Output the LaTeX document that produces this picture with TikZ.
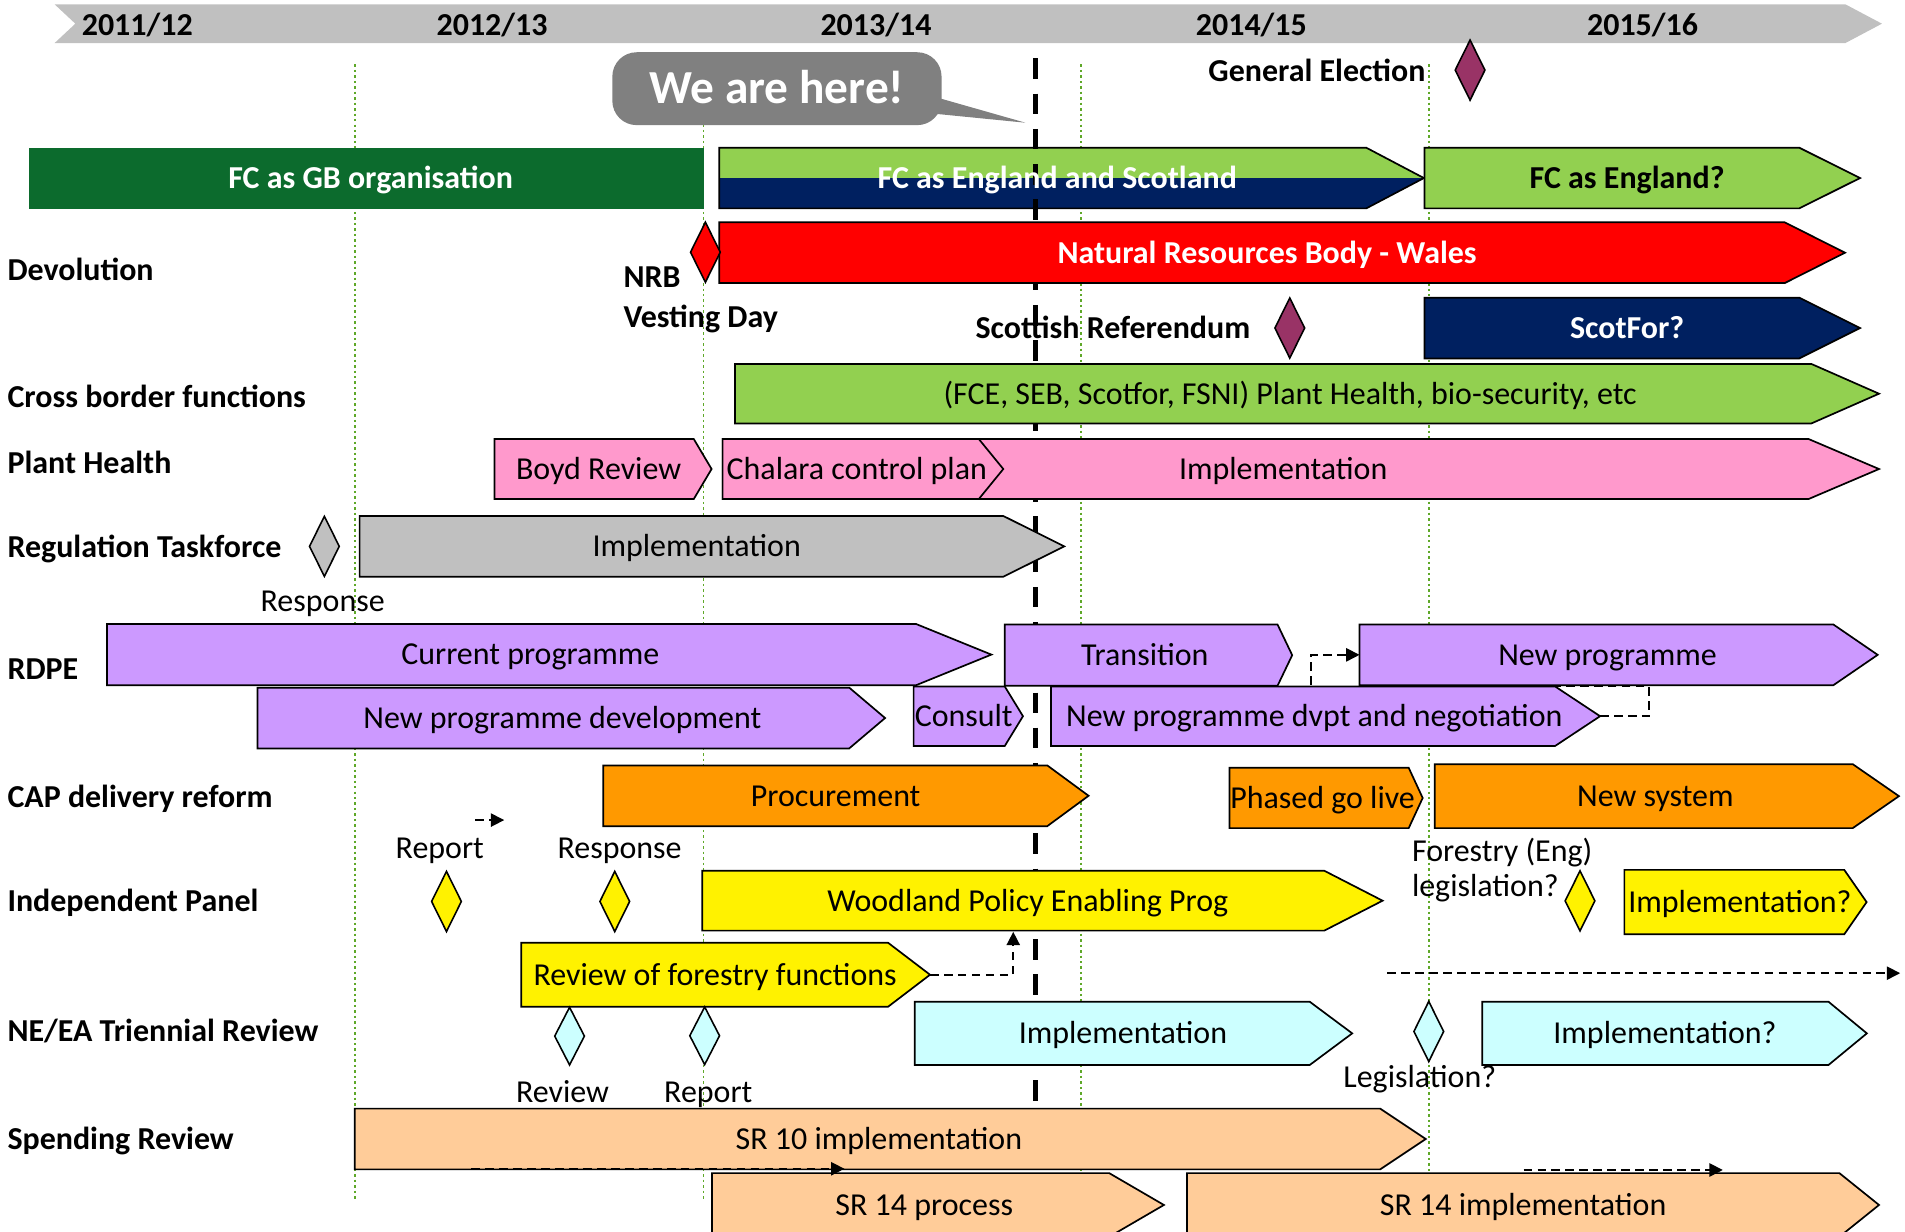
\documentclass[tikz,border=0pt]{standalone}
\usepackage{fontspec}
\setmainfont{Carlito}
\usetikzlibrary{arrows.meta,shapes.geometric}

\definecolor{tlgrey}{HTML}{C0C0C0}
\definecolor{fcgb}{HTML}{0C6B2D}
\definecolor{lgreen}{HTML}{92D050}
\definecolor{navy}{HTML}{002060}
\definecolor{plum}{HTML}{993366}
\definecolor{pink}{HTML}{FF99CC}
\definecolor{lilac}{HTML}{CC99FF}
\definecolor{capor}{HTML}{FF9900}
\definecolor{aqua}{HTML}{CCFFFF}
\definecolor{peach}{HTML}{FFCC99}
\definecolor{bubgrey}{HTML}{808080}
\definecolor{gridgreen}{HTML}{5FA829}

\tikzset{
  every node/.style={inner sep=0pt, text height=17pt, text depth=0pt},
  stage/.style={draw=black, line width=1.4pt},
  gem/.style={diamond, draw=black, line width=1.3pt, text height=0pt,
    minimum width=25pt, minimum height=50pt},
  lbl/.style={anchor=west},
  row/.style={anchor=west, font=\bfseries},
  grid/.style={gridgreen, line width=1.5pt, dash pattern=on 2pt off 2.5pt},
  nowline/.style={black, line width=4pt, dash pattern=on 17pt off 12pt},
  link/.style={black, line width=1.3pt, dash pattern=on 7pt off 4.5pt,
    -{Triangle[length=11pt,width=11pt]}},
  bubble/.style={fill=bubgrey, rounded corners=20pt, minimum width=271pt,
    minimum height=60pt, text=white, text height=25pt,
    font=\fontsize{39}{44}\selectfont\bfseries},
}

% #1 look, #2 name, #3 left, #4 body end, #5 tip, #6 top, #7 bottom, #8 text
\newcommand{\stage}[8]{%
  \draw[stage,#1] (#3,#6) -- (#4,#6) -- (#5,{(#6+#7)/2}) coordinate (#2 tip)
    -- (#4,#7) -- (#3,#7) -- cycle
    (#3,{(#6+#7)/2}) coordinate (#2 in)
    ({(#3+(#4+#5)/2)/2},{(#6+#7)/2}) node (#2) {#8};}

\begin{document}
\fontsize{26.3}{31}\selectfont
\begin{tikzpicture}[x=1pt,y=-1pt]
\useasboundingbox (0,0) rectangle (1568,1014);
\clip (0,0) rectangle (1568,1014);
% years
\fill[tlgrey] (45,3.6) -- (1519,3.6) -- (1549,19.5) -- (1519,35.4) -- (45,35.4) -- (62,19.5) -- cycle;
\foreach \x/\a/\b in {113/2011/12,405/2012/13,721/2013/14,1030/2014/15,1352/2015/16}
  \node[font=\bfseries] (yr\a) at (\x,20.6) {\a/\b};
\foreach \x in {292,579,890,1176}
  \draw[grid] (\x,53) -- (\x,987);

\node[bubble] (here) at (639.5,73) {We are here!};
\coordinate (hereptr) at (844,101);
\fill[bubgrey] ([xshift=-12pt,yshift=-5pt]here.east) -- (hereptr) -- ([xshift=-12pt,yshift=-20pt]here.east) -- cycle;

\node[font=\bfseries] (ge) at (1084,58.4) {General Election};
\node[gem, fill=plum] (gedia) at (1210,57.7) {};

\coordinate (nowtop) at (852.5,48);
\coordinate (nowbot) at (852.5,911);
\draw[nowline] (nowtop) -- (nowbot);

% FC
\fill[fcgb] (24,121.6) rectangle (579.6,172);
\node[font=\bfseries, text=white] (fcgb) at (305,147) {FC as GB organisation};
\stage{fill=lgreen, text=white, font=\bfseries,
  path picture={\fill[navy] (path picture bounding box.west) rectangle (path picture bounding box.south east);
    \draw[nowline] (nowtop) -- (nowbot);}}
  {fces}{592}{1124.6}{1172}{121.6}{171.5}{FC as England and Scotland}
\stage{fill=lgreen, font=\bfseries}{fceng}{1172.5}{1481}{1531}{121.6}{171.5}{FC as England?}

% Devolution
\node[row] (devo) at (6,222) {Devolution};
\stage{fill=red, text=white, font=\bfseries}{nrbw}{592}{1469}{1518.6}{183}{233}{Natural Resources Body - Wales}
\node[gem, fill=red] (nrbdia) at (580.6,207.6) {};
\node[row] (nrb) at (513,228) {NRB};
\node[row] (vday) at (513,261) {Vesting Day};
\node[font=\bfseries] (scotref) at (916,270) {Scottish Referendum};
\node[gem, fill=plum] (refdia) at (1061.6,270) {};
\stage{fill=navy, text=white, font=\bfseries}{scotfor}{1172.5}{1481}{1531}{245}{295}{ScotFor?}

% Cross border
\node[row] (xbf) at (6,326.5) {Cross border functions};
\stage{fill=lgreen}{xborder}{605}{1491}{1546.6}{299.6}{348.5}{(FCE, SEB, Scotfor, FSNI) Plant Health, bio-security, etc}

% Plant health
\node[row] (ph) at (6,381) {Plant Health};
\stage{fill=pink}{boyd}{407}{571}{585.7}{361.3}{410.8}{Boyd Review}
\stage{fill=pink}{phimpl}{594.8}{1488.5}{1546.6}{361.3}{410.8}{Implementation}
\stage{fill=pink}{chalara}{594.8}{805.6}{825.8}{361.3}{410.8}{Chalara control plan}

% Regulation
\node[row] (rtf) at (6,450) {Regulation Taskforce};
\node[gem, fill=tlgrey] (rtfdia) at (267,449.7) {};
\node (rtfresp) at (265.6,495) {Response};
\stage{fill=tlgrey}{rtfimpl}{296}{825.8}{876}{424.7}{474.7}{Implementation}

% RDPE
\node[row] (rdpe) at (6,551) {RDPE};
\stage{fill=lilac}{curprog}{88}{754}{816}{513.6}{564}{Current programme}
\stage{fill=lilac}{transit}{827}{1051.5}{1063.6}{514}{564.5}{Transition}
\stage{fill=lilac}{newprog}{1119}{1509}{1545.5}{514}{564}{New programme}
\stage{fill=lilac}{npdev}{212}{699}{728.5}{566}{616}{New programme development}
\stage{fill=lilac}{consult}{752}{827}{842}{565}{614}{Consult}
\stage{fill=lilac}{ndvpt}{865}{1280}{1317}{565}{614}{New programme dvpt and negotiation}
\draw[link] (ndvpt tip) -- ++(40.5,0) -- ++(0,-24.5) -- ++(-278.5,0) |- (newprog in);

% CAP
\node[row] (cap) at (6,656) {CAP delivery reform};
\stage{fill=capor}{procure}{496.6}{862}{896}{630}{680}{Procurement}
\stage{fill=capor}{phased}{1012}{1159.5}{1171}{632}{681.6}{Phased go live}
\stage{fill=capor}{newsys}{1181}{1525}{1563}{629}{681.6}{New system}
\coordinate (capa) at (391,675);
\coordinate (capb) at (415,675);
\draw[link] (capa) -- (capb);

% Independent panel
\node[row] (ip) at (6,742) {Independent Panel};
\node (iprep) at (362,698) {Report};
\node (ipresp) at (510,698) {Response};
\node[gem, fill=yellow] (ipd1) at (367.5,742) {};
\node[gem, fill=yellow] (ipd2) at (506,742) {};
\stage{fill=yellow}{wpep}{578}{1090}{1138}{716.7}{766}{Woodland Policy Enabling Prog}
\node[lbl] (fleg1) at (1162,700.5) {Forestry (Eng)};
\node[lbl] (fleg2) at (1162,729) {legislation?};
\node[gem, fill=yellow] (ipd3) at (1300.5,741.5) {};
\stage{fill=yellow}{ipimpl}{1337}{1518}{1536.4}{716}{769}{Implementation?}
\stage{fill=yellow}{rff}{429}{731}{765.5}{776}{828.6}{Review of forestry functions}
\draw[link] (rff tip) -- ++(68.5,0) -- ++(0,-35.3);
\coordinate (fwd) at (1142,801);
\coordinate (fwdend) at (1564,801);
\draw[link] (fwd) -- (fwdend);

% NE/EA
\node[row] (neea) at (6,849) {NE/EA Triennial Review};
\node[gem, fill=aqua, minimum height=48pt] (ned1) at (468.8,852.8) {};
\node[gem, fill=aqua, minimum height=48pt] (ned2) at (580,852.5) {};
\node (nerev) at (463,898.6) {Review};
\node (nerep) at (583,898.6) {Report};
\stage{fill=aqua}{neimpl}{753}{1078}{1113}{824.5}{876.6}{Implementation}
\node[gem, fill=aqua] (ned3) at (1176,849) {};
\node (neleg) at (1168.6,887) {Legislation?};
\stage{fill=aqua}{neimplq}{1220}{1505}{1536.6}{824.5}{876.6}{Implementation?}

% Spending review
\node[row] (sr) at (6,938) {Spending Review};
\stage{fill=peach}{srten}{292}{1136}{1173.5}{912.5}{962.5}{SR 10 implementation}
\stage{fill=peach}{srproc}{586}{913}{958}{965.6}{1018}{SR 14 process}
\stage{fill=peach}{srimpl}{977}{1514}{1546.6}{965.6}{1018}{SR 14 implementation}
\coordinate (sra) at (388,962);
\coordinate (srb) at (695,962);
\draw[link] (sra) -- (srb);
\coordinate (src) at (1254,963);
\coordinate (srd) at (1418,963);
\draw[link] (src) -- (srd);
\end{tikzpicture}
\end{document}
